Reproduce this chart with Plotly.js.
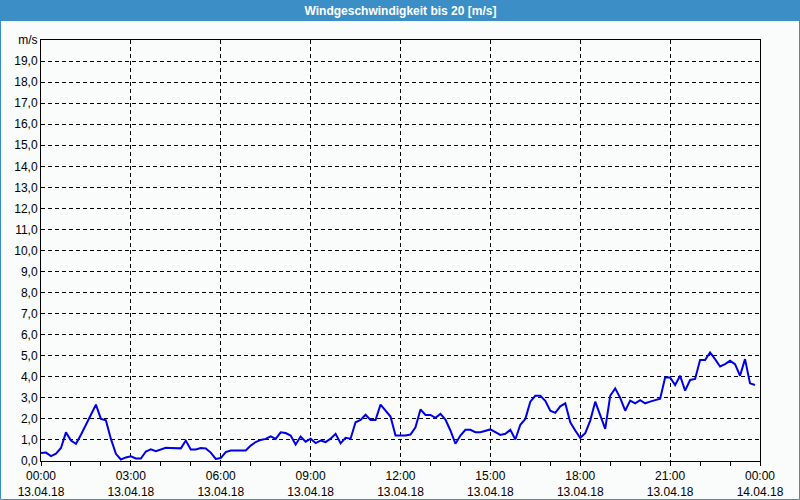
<!DOCTYPE html>
<html>
<head>
<meta charset="utf-8">
<script src="https://cdn.plot.ly/plotly-3.0.1.min.js"></script>
<style>
  html, body { margin: 0; padding: 0; background: #f9fcfa; }
  #chart { width: 800px; height: 500px; }
</style>
</head>
<body>
<div id="chart"></div>
<script>
const chartTitle = "Windgeschwindigkeit bis 20 [m/s]";
const dayDate = "2018-04-13";

const times = [
  "00:00","00:10","00:20","00:30","00:40","00:50",
  "01:00","01:10","01:20","01:30","01:40","01:50",
  "02:00","02:10","02:20","02:30","02:40","02:50",
  "03:00","03:10","03:20","03:30","03:40","03:50",
  "04:00","04:10","04:20","04:30","04:40","04:50",
  "05:00","05:10","05:20","05:30","05:40","05:50",
  "06:00","06:10","06:20","06:30","06:40","06:50",
  "07:00","07:10","07:20","07:30","07:40","07:50",
  "08:00","08:10","08:20","08:30","08:40","08:50",
  "09:00","09:10","09:20","09:30","09:40","09:50",
  "10:00","10:10","10:20","10:30","10:40","10:50",
  "11:00","11:10","11:20","11:30","11:40","11:50",
  "12:00","12:10","12:20","12:30","12:40","12:50",
  "13:00","13:10","13:20","13:30","13:40","13:50",
  "14:00","14:10","14:20","14:30","14:40","14:50",
  "15:00","15:10","15:20","15:30","15:40","15:50",
  "16:00","16:10","16:20","16:30","16:40","16:50",
  "17:00","17:10","17:20","17:30","17:40","17:50",
  "18:00","18:10","18:20","18:30","18:40","18:50",
  "19:00","19:10","19:20","19:30","19:40","19:50",
  "20:00","20:10","20:20","20:30","20:40","20:50",
  "21:00","21:10","21:20","21:30","21:40","21:50",
  "22:00","22:10","22:20","22:30","22:40","22:50",
  "23:00","23:10","23:20","23:30","23:40","23:50"
];

const windSpeed = [
  0.38,0.40,0.23,0.35,0.62,1.36,
  0.97,0.82,1.25,1.70,2.20,2.68,
  2.00,1.93,1.05,0.34,0.07,0.17,
  0.22,0.12,0.12,0.45,0.55,0.47,
  0.55,0.63,0.62,0.60,0.60,0.97,
  0.55,0.55,0.62,0.60,0.40,0.10,
  0.14,0.42,0.50,0.50,0.50,0.50,
  0.73,0.90,1.00,1.05,1.17,1.05,
  1.36,1.33,1.21,0.78,1.16,0.92,
  1.06,0.85,0.97,0.90,1.06,1.29,
  0.84,1.10,1.06,1.84,1.95,2.20,
  1.95,1.95,2.68,2.37,2.11,1.21,
  1.21,1.21,1.26,1.60,2.45,2.19,
  2.19,2.05,2.24,1.97,1.45,0.82,
  1.21,1.48,1.48,1.37,1.37,1.45,
  1.50,1.37,1.24,1.29,1.48,1.02,
  1.72,2.00,2.82,3.10,3.10,2.86,
  2.39,2.29,2.60,2.74,1.84,1.45,
  1.10,1.32,1.92,2.82,2.20,1.53,
  3.10,3.45,3.00,2.39,2.87,2.74,
  2.89,2.74,2.82,2.90,2.96,3.97,
  3.97,3.61,4.05,3.34,3.85,3.90,
  4.80,4.80,5.16,4.84,4.49,4.60,
  4.76,4.60,4.05,4.84,3.69,3.61
];

const xTickTimes = ["2018-04-13 00:00","2018-04-13 03:00","2018-04-13 06:00","2018-04-13 09:00",
  "2018-04-13 12:00","2018-04-13 15:00","2018-04-13 18:00","2018-04-13 21:00","2018-04-14 00:00"];
const xTickLabels = ["00:00<br>13.04.18","03:00<br>13.04.18","06:00<br>13.04.18","09:00<br>13.04.18",
  "12:00<br>13.04.18","15:00<br>13.04.18","18:00<br>13.04.18","21:00<br>13.04.18","00:00<br>14.04.18"];

const yTickValues = [0,1,2,3,4,5,6,7,8,9,10,11,12,13,14,15,16,17,18,19,20];
const yTickLabels = ["0,0","1,0","2,0","3,0","4,0","5,0","6,0","7,0","8,0","9,0","10,0",
  "11,0","12,0","13,0","14,0","15,0","16,0","17,0","18,0","19,0","m/s"];

const trace = {
  x: times.map(t => dayDate + " " + t),
  y: windSpeed,
  type: "scatter",
  mode: "lines",
  line: { color: "#0000e6", width: 2 },
  hoverinfo: "skip"
};

const blue = "#3c8fc6";
const L = 41, R = 760, T = 40, B = 461;
const pw = R - L, ph = B - T;
const px = v => (v - L) / pw;
const py = v => (B - v) / ph;

const layout = {
  width: 800, height: 500,
  margin: { l: L, r: 800 - R, t: T, b: 500 - B },
  paper_bgcolor: "#f9fcfa",
  plot_bgcolor: "#f9fcfa",
  showlegend: false,
  font: { family: "Liberation Sans, Arial, sans-serif", size: 12, color: "#000" },
  title: {
    text: "<b>" + chartTitle + "</b>",
    font: { family: "Liberation Sans, Arial, sans-serif", size: 12, color: "#ffffff" },
    x: 0.5, xanchor: "center", xref: "paper",
    y: 1 - 10.5 / 500, yanchor: "middle", yref: "container"
  },
  xaxis: {
    type: "date",
    range: ["2018-04-13 00:00", "2018-04-14 00:00"],
    tickmode: "array",
    tickvals: xTickTimes,
    ticktext: xTickLabels,
    ticks: "outside", ticklen: 4, tickcolor: "#000", tickwidth: 1,
    minor: { ticks: "outside", ticklen: 4, tickcolor: "#000", dtick: 3600000,
             tick0: "2018-04-13 00:00", showgrid: false },
    showgrid: true, gridcolor: "#000", gridwidth: 1, griddash: "4px,3px",
    showline: true, linecolor: "#000", linewidth: 1, mirror: true,
    zeroline: false, fixedrange: true,
    tickfont: { size: 12, color: "#000" }
  },
  yaxis: {
    range: [0, 20],
    tickmode: "array",
    tickvals: yTickValues,
    ticktext: yTickLabels,
    ticks: "",
    showgrid: true, gridcolor: "#000", gridwidth: 1, griddash: "4px,3px",
    showline: true, linecolor: "#000", linewidth: 1, mirror: true,
    zeroline: false, fixedrange: true,
    tickfont: { size: 12, color: "#000" }
  },
  shapes: [
    { type: "rect", xref: "paper", yref: "paper", layer: "below",
      x0: px(0), x1: px(800), y0: py(21), y1: py(-2),
      fillcolor: blue, line: { width: 0 } },
    { type: "rect", xref: "paper", yref: "paper", layer: "above",
      x0: px(0.5), x1: px(799.5), y0: py(499.5), y1: py(20),
      fillcolor: "rgba(0,0,0,0)", line: { color: blue, width: 1 } }
  ]
};

Plotly.newPlot("chart", [trace], layout, { displayModeBar: false, staticPlot: true });
</script>
</body>
</html>
